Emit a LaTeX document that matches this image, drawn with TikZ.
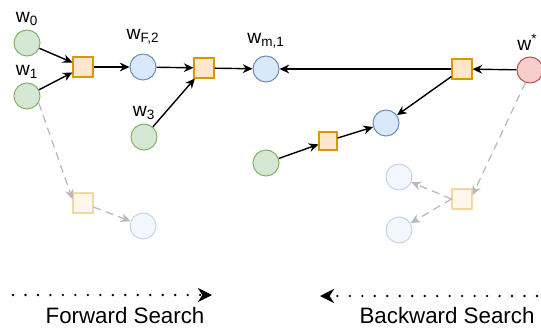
\documentclass[tikz,border=0pt]{standalone}
\usepackage{fontspec}
\setmainfont{Liberation Sans}
\usepackage{tikz}
\usetikzlibrary{arrows.meta,positioning}
\definecolor{gfill}{HTML}{D5E8D4}\definecolor{gdraw}{HTML}{82B366}
\definecolor{bfill}{HTML}{DAE8FC}\definecolor{bdraw}{HTML}{6C8EBF}
\definecolor{ofill}{HTML}{FFE6CC}\definecolor{odraw}{HTML}{D79B00}
\definecolor{rfill}{HTML}{F8CECC}\definecolor{rdraw}{HTML}{B85450}

\begin{document}
\begin{tikzpicture}[
  wnode/.style={circle, minimum size=0.52cm, inner sep=0pt, line width=0.6pt},
  green/.style={wnode, fill=gfill, draw=gdraw},
  blue/.style={wnode, fill=bfill, draw=bdraw},
  red/.style={wnode, fill=rfill, draw=rdraw},
  op/.style={rectangle, minimum size=0.4cm, inner sep=0pt, fill=ofill, draw=odraw, line width=0.6pt},
  faded/.style={opacity=0.35},
  lbl/.style={font=\fontsize{11}{13}\selectfont, inner sep=1pt},
  con/.style={-{Stealth[length=5.5pt,width=5pt]}, line width=0.8pt},
  ghost/.style={-{Stealth[length=5.5pt,width=5pt]}, line width=0.7pt, gray!55, dash pattern=on 4.5pt off 3pt},
  search/.style={-{Stealth[length=8pt,width=8pt,inset=2.5pt]}, line width=1.5pt, line cap=round, dash pattern=on 0pt off 7.1pt},
  caption/.style={font=\fontsize{12.7}{15}\selectfont, inner sep=0pt, anchor=base},
]
\useasboundingbox (0,0) rectangle (10.82,-6.54);
% Forward part
\node[green] (w0) at (0.54,-0.86) {};
\node[green] (w1) at (0.54,-1.92) {};
\node[op] (f1) at (1.66,-1.34) {};
\node[blue] (wF2) at (2.86,-1.34) {};
\node[op] (f2) at (4.08,-1.36) {};
\node[green] (w3) at (2.88,-2.74) {};
\node[blue] (wm1) at (5.32,-1.38) {};
% Backward part
\node[red] (ws) at (10.6,-1.40) {};
\node[op] (b1) at (9.24,-1.38) {};
\node[blue] (wb) at (7.72,-2.46) {};
\node[op, minimum size=0.36cm] (b2) at (6.56,-2.82) {};
\node[green] (wg) at (5.32,-3.26) {};
% Faded candidates
\node[op, faded] (ff) at (1.66,-4.06) {};
\node[blue, faded] (fc1) at (2.86,-4.52) {};
\node[op, faded] (fb) at (9.24,-3.98) {};
\node[blue, faded] (fc2) at (7.98,-3.54) {};
\node[blue, faded] (fc3) at (7.98,-4.60) {};
% Labels
\node[lbl, above=1pt of w0] (l0) {w\textsubscript{0}};
\node[lbl, above=1pt of w1] (l1) {w\textsubscript{1}};
\node[lbl, above=4pt of wF2] (lF2) {w\textsubscript{F,2}};
\node[lbl, above=1pt of w3] (l3) {w\textsubscript{3}};
\node[lbl, above=3pt of wm1] (lm1) {w\textsubscript{m,1}};
\node[lbl, above=2pt of ws, xshift=-0.05cm] (ls) {w\textsuperscript{*}};
% Connectors
\draw[con] (w0) -- (f1);
\draw[con] (w1) -- (f1);
\draw[con] (f1) -- (wF2);
\draw[con] (wF2) -- (f2);
\draw[con] (w3) -- (f2);
\draw[con] (f2) -- (wm1);
\draw[con] (ws) -- (b1);
\draw[con] (b1) -- (wm1);
\draw[con] (b1) -- (wb);
\draw[con] (wg) -- (b2);
\draw[con] (b2) -- (wb);
\draw[ghost] (w1.-30) -- (ff.160);
\draw[ghost] (ff) -- (fc1);
\draw[ghost] (ws.250) -- (fb.20);
\draw[ghost] (fb.west) -- (fc2);
\draw[ghost] (fb.west) -- (fc3);
% Search directions
\coordinate (fs0) at (0.26,-5.9);
\coordinate (fs1) at (4.24,-5.9);
\coordinate (bs0) at (10.74,-5.92);
\coordinate (bs1) at (6.4,-5.92);
\draw[search] (fs0) -- (fs1);
\draw[search] (bs0) -- (bs1);
\node[caption] (fwd) at (2.5,-6.47) {Forward Search};
\node[caption] (bwd) at (8.94,-6.47) {Backward Search};
\end{tikzpicture}
\end{document}
